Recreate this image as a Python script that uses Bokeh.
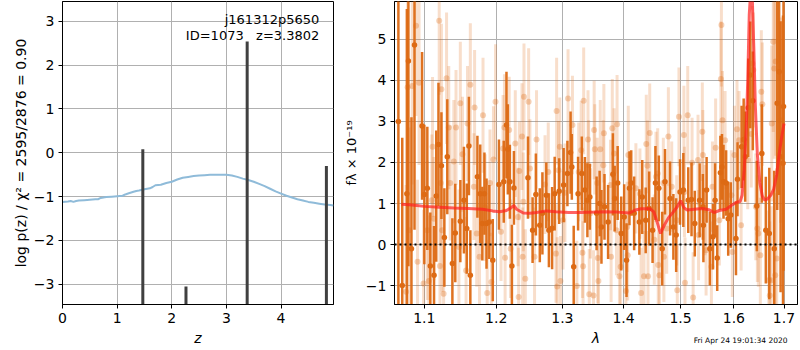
from bokeh.plotting import figure
from bokeh.layouts import row
from bokeh.models import (ColumnDataSource, FixedTicker, CustomJSTickFormatter,
                          Label, Span, Range1d, Title)
from bokeh.embed import file_html
from bokeh.resources import INLINE

FONT = "DejaVu Sans"
ORANGE = "#dd6a14"

# ---------------- left panel: log p(z) ----------------
z_grid = [0.0, 0.1, 0.15, 0.2, 0.25, 0.3, 0.4, 0.5, 0.6, 0.65, 0.7, 0.8, 0.9, 1.0,
          1.1, 1.15, 1.2, 1.3, 1.35, 1.4, 1.5, 1.6, 1.65, 1.7, 1.8, 1.9, 2.0, 2.1,
          2.2, 2.3, 2.4, 2.5, 2.6, 2.7, 2.8, 2.9, 3.0, 3.1, 3.2, 3.3, 3.4, 3.5, 3.6,
          3.7, 3.8, 3.9, 4.0, 4.1, 4.2, 4.3, 4.4, 4.5, 4.6, 4.7, 4.8, 4.9, 4.96]
log_pz = [-1.12, -1.11, -1.10, -1.12, -1.10, -1.09, -1.08, -1.07, -1.06, -1.06, -1.03,
          -1.01, -1.00, -0.99, -0.98, -0.95, -0.93, -0.89, -0.87, -0.86, -0.83, -0.81,
          -0.78, -0.74, -0.73, -0.69, -0.66, -0.61, -0.57, -0.55, -0.53, -0.52, -0.51,
          -0.50, -0.50, -0.50, -0.50, -0.52, -0.55, -0.59, -0.62, -0.66, -0.71, -0.76,
          -0.82, -0.88, -0.93, -0.98, -1.02, -1.06, -1.09, -1.12, -1.14, -1.16, -1.18,
          -1.19, -1.20]
peak_z = [1.47, 2.26, 3.38, 4.83]
peak_logp = [0.08, -3.05, 2.54, -0.30]
left_xticks = [0, 1, 2, 3, 4]
left_yticks = [-3, -2, -1, 0, 1, 2, 3]
left_xlim = (0.0, 4.96)
left_ylim = (-3.46, 3.45)

# ---------------- right panel: spectrum ----------------
dark_lam = [1.066, 1.071, 1.077, 1.079, 1.083, 1.087, 1.097, 1.100, 1.104, 1.108, 1.113,
            1.116, 1.119, 1.123, 1.127, 1.131, 1.138, 1.142, 1.149, 1.154, 1.158, 1.161,
            1.163, 1.173, 1.177, 1.180, 1.183, 1.186, 1.190, 1.195, 1.204, 1.211, 1.215,
            1.217, 1.220, 1.223, 1.226, 1.247, 1.254, 1.259, 1.265, 1.269, 1.275, 1.279,
            1.284, 1.288, 1.295, 1.302, 1.308, 1.313, 1.315, 1.318, 1.325, 1.331, 1.336,
            1.340, 1.344, 1.355, 1.360, 1.363, 1.368, 1.374, 1.382, 1.385, 1.390, 1.396,
            1.401, 1.405, 1.410, 1.413, 1.418, 1.427, 1.432, 1.438, 1.444, 1.450, 1.455,
            1.461, 1.467, 1.472, 1.481, 1.487, 1.492, 1.499, 1.505, 1.514, 1.520, 1.526,
            1.535, 1.541, 1.542, 1.548, 1.554, 1.560, 1.564, 1.568, 1.574, 1.577, 1.580,
            1.585, 1.589, 1.594, 1.604, 1.607, 1.615, 1.619, 1.622, 1.628, 1.632, 1.637,
            1.645, 1.655, 1.663, 1.670, 1.680, 1.686, 1.690, 1.693, 1.698, 1.699]
dark_flux = [3.0, -1.0, 1.24, 4.47, -0.10, 4.86, 2.89, 1.22, 1.37, -0.52, -0.75,
             1.18, 2.44, 1.92, 0.17, 2.14, -0.46, 0.28, 0.57, 1.08, 0.39, 2.40,
             -0.75, 1.65, 1.24, 0.51, 1.24, 0.51, 0.55, -0.38, 1.46, 1.53, 2.91,
             2.32, 1.53, -0.52, 1.38, 1.63, 0.35, 1.22, 0.47, 0.76, 1.20, 0.35,
             0.40, 1.24, 1.30, 1.45, 1.73, 2.24, 1.89, -0.54, 1.24, 1.73, 1.33,
             1.08, 1.16, 0.76, 1.00, 0.43, 0.92, 0.55, 1.71, 1.12, 1.50, 0.27,
             0.67, -0.38, 1.37, 1.50, 0.76, 0.55, 1.16, 0.59, 0.88, 0.35, 1.50,
             1.37, -0.10, 1.53, 1.12, 0.43, 0.23, 1.28, 1.33, 1.08, 1.10, 0.51,
             1.08, 0.92, 0.47, 1.33, -0.10, 0.19, 1.08, -0.33, 1.75, 1.89, 1.53,
             1.50, 0.63, 0.72, 0.15, 1.59, 2.38, 2.56, 2.14, 3.33, 4.13, 3.50,
             0.94, 2.22, 0.35, 0.27, -0.10, 3.44, 4.21, 2.14, 1.98, 3.36]
dark_err = [6.0, 3.6, 4.5, 5.0, 3.2, 4.5, 1.8, 1.7, 1.5, 1.3, 1.2,
            1.6, 1.5, 1.3, 1.2, 1.4, 1.1, 1.2, 1.0, 1.3, 1.1, 1.2,
            1.1, 1.0, 1.2, 0.9, 1.0, 1.1, 0.9, 1.0, 1.1, 1.0, 1.3,
            1.1, 0.9, 1.0, 0.9, 1.0, 0.8, 1.0, 0.9, 1.0, 0.8, 0.9,
            1.0, 0.9, 0.8, 0.9, 0.8, 1.0, 0.8, 1.0, 0.9, 0.9, 0.8,
            0.9, 0.8, 0.9, 0.8, 0.9, 0.8, 0.9, 1.0, 0.8, 0.9, 0.9,
            0.8, 0.9, 0.9, 0.8, 0.9, 0.8, 0.9, 0.8, 0.9, 0.8, 0.9,
            0.8, 0.9, 0.8, 0.9, 0.8, 0.9, 0.8, 0.9, 0.8, 0.9, 0.8,
            0.9, 0.8, 0.9, 0.8, 0.9, 0.8, 0.9, 0.8, 0.9, 0.8, 0.9,
            0.8, 0.9, 0.8, 0.9, 0.9, 1.0, 1.0, 1.1, 1.2, 1.3, 1.2,
            1.1, 1.2, 1.3, 1.6, 1.9, 2.6, 3.0, 3.3, 3.6, 4.0]

light_lam = [1.076, 1.078, 1.080, 1.084, 1.089, 1.091, 1.093, 1.099, 1.104, 1.106, 1.110,
             1.111, 1.113, 1.120, 1.121, 1.122, 1.123, 1.124, 1.126, 1.130, 1.133, 1.135,
             1.140, 1.143, 1.147, 1.149, 1.152, 1.157, 1.159, 1.163, 1.168, 1.169, 1.172,
             1.176, 1.181, 1.184, 1.187, 1.191, 1.193, 1.196, 1.199, 1.207, 1.210, 1.212,
             1.213, 1.219, 1.221, 1.228, 1.232, 1.233, 1.234, 1.238, 1.239, 1.240, 1.241,
             1.243, 1.248, 1.250, 1.257, 1.260, 1.273, 1.278, 1.290, 1.291, 1.292, 1.294,
             1.296, 1.297, 1.301, 1.304, 1.309, 1.316, 1.323, 1.326, 1.330, 1.332, 1.333,
             1.334, 1.341, 1.342, 1.343, 1.345, 1.350, 1.351, 1.352, 1.356, 1.357, 1.358,
             1.361, 1.366, 1.367, 1.378, 1.379, 1.381, 1.384, 1.388, 1.389, 1.393, 1.395,
             1.404, 1.406, 1.407, 1.408, 1.421, 1.428, 1.430, 1.435, 1.439, 1.441, 1.442,
             1.445, 1.453, 1.456, 1.459, 1.460, 1.462, 1.469, 1.470, 1.475, 1.478, 1.484,
             1.493, 1.494, 1.497, 1.506, 1.507, 1.508, 1.513, 1.521, 1.523, 1.532, 1.533,
             1.540, 1.541, 1.545, 1.547, 1.557, 1.559, 1.565, 1.572, 1.575, 1.576, 1.578,
             1.583, 1.595, 1.597, 1.601, 1.606, 1.610, 1.614, 1.627, 1.634, 1.636, 1.638,
             1.643, 1.646, 1.648, 1.652, 1.654, 1.656, 1.669, 1.671, 1.674, 1.675, 1.678,
             1.680, 1.682, 1.683, 1.685, 1.693]
light_flux = [-1.15, 3.83, 0.35, 3.86, 5.33, -0.42, 3.94, -0.95, 0.35, -0.89, 1.08,
              2.38, 0.63, 5.45, -0.52, 1.50, 3.78, 0.35, -1.20, 4.05, 2.85, 1.50,
              2.02, 2.85, -0.06, 3.44, 2.20, -0.63, 2.95, 3.89, 1.41, 3.34, 0.27,
              -0.30, 3.15, 0.90, -1.18, 1.50, -0.91, 2.07, 3.48, 0.31, 2.34, 2.85,
              -0.32, 2.79, -0.10, 2.46, 0.67, -1.28, 1.79, 2.63, -0.30, 1.04, 3.60,
              -0.83, 3.48, 1.85, -0.30, 2.56, 1.46, 1.77, -0.22, 3.25, -1.02, 1.81,
              2.38, -0.89, 0.59, 1.26, 3.56, 2.91, -1.01, 1.77, 2.30, -0.20, -0.53,
              3.50, 2.56, 1.93, -1.21, 0.76, -1.24, 2.79, 2.32, 1.50, -0.33, -0.89,
              2.32, 1.93, 2.71, 1.45, -0.30, 2.83, 2.22, 0.35, 2.93, -0.77, -0.54,
              -1.13, 0.43, -0.26, 2.18, 1.37, 1.24, -1.18, -0.77, 2.45, 1.92, -0.77,
              2.72, 0.12, 1.65, 1.73, -0.50, -0.75, 1.50, -0.30, 0.39, 2.63, 1.41,
              0.59, -1.11, 3.11, 2.67, 1.28, -0.93, 3.15, 1.99, -1.29, 2.06, 0.23,
              2.75, 2.18, 0.84, -0.14, -0.54, 1.41, 2.36, 0.59, 4.03, 5.35, 3.03,
              2.54, 1.20, -0.18, 2.18, 2.81, 2.54, 0.47, 2.06, 2.69, 4.41, 4.25,
              0.92, 0.39, 0.27, -0.26, 3.72, 3.42, -0.87, -1.24, -0.87, 2.95, 4.94,
              4.29, -0.75, 4.46, -0.34, 3.03]
light_err = [2.6, 2.8, 2.5, 2.4, 2.2, 2.0, 2.0, 1.8, 1.7, 1.6, 1.6,
             1.7, 1.5, 1.8, 1.5, 1.5, 1.6, 1.5, 1.4, 1.6, 1.5, 1.4,
             1.5, 1.4, 1.4, 1.5, 1.4, 1.3, 1.4, 1.5, 1.3, 1.4, 1.3,
             1.3, 1.4, 1.3, 1.3, 1.3, 1.2, 1.3, 1.4, 1.2, 1.3, 1.3,
             1.2, 1.3, 1.2, 1.3, 1.2, 1.2, 1.2, 1.3, 1.2, 1.2, 1.3,
             1.2, 1.3, 1.2, 1.2, 1.2, 1.2, 1.2, 1.2, 1.3, 1.2, 1.2,
             1.2, 1.1, 1.2, 1.2, 1.2, 1.2, 1.1, 1.2, 1.2, 1.1, 1.1,
             1.3, 1.2, 1.1, 1.1, 1.1, 1.1, 1.2, 1.1, 1.1, 1.1, 1.1,
             1.2, 1.1, 1.2, 1.1, 1.1, 1.2, 1.1, 1.1, 1.2, 1.1, 1.1,
             1.1, 1.1, 1.1, 1.2, 1.1, 1.1, 1.1, 1.1, 1.2, 1.1, 1.1,
             1.2, 1.1, 1.1, 1.1, 1.1, 1.1, 1.1, 1.1, 1.1, 1.2, 1.1,
             1.1, 1.1, 1.2, 1.2, 1.1, 1.1, 1.2, 1.1, 1.1, 1.1, 1.1,
             1.2, 1.1, 1.1, 1.1, 1.1, 1.1, 1.2, 1.1, 1.4, 1.5, 1.2,
             1.2, 1.1, 1.1, 1.2, 1.2, 1.2, 1.1, 1.2, 1.3, 1.4, 1.4,
             1.3, 1.3, 1.3, 1.4, 1.5, 1.5, 1.7, 1.8, 1.8, 1.9, 2.2,
             2.2, 2.0, 2.3, 2.2, 2.5]

model_lam = [1.070, 1.080, 1.090, 1.100, 1.120, 1.140, 1.160, 1.180, 1.195, 1.205,
             1.215, 1.222, 1.226, 1.230, 1.240, 1.250, 1.260, 1.275, 1.290, 1.310,
             1.330, 1.350, 1.370, 1.390, 1.410, 1.420, 1.430, 1.445, 1.452, 1.458,
             1.464, 1.470, 1.478, 1.486, 1.494, 1.500, 1.506, 1.512, 1.525, 1.540,
             1.552, 1.562, 1.572, 1.585, 1.595, 1.605, 1.612, 1.616, 1.620, 1.624,
             1.627, 1.630, 1.633, 1.636, 1.639, 1.642, 1.646, 1.651, 1.656, 1.661,
             1.667, 1.673, 1.679, 1.685, 1.690, 1.695, 1.700]
model_flux = [0.98, 0.97, 0.95, 0.93, 0.91, 0.89, 0.88, 0.86, 0.82, 0.80,
              0.83, 0.90, 0.95, 0.86, 0.77, 0.76, 0.78, 0.82, 0.80, 0.78,
              0.78, 0.79, 0.80, 0.79, 0.77, 0.84, 0.87, 0.87, 0.80, 0.55,
              0.27, 0.45, 0.65, 0.78, 0.92, 1.07, 0.90, 0.84, 0.86, 0.88,
              0.85, 0.78, 0.83, 0.86, 0.95, 1.03, 1.05, 1.20, 1.80, 2.80,
              4.00, 5.60, 6.20, 6.00, 4.80, 3.40, 2.20, 1.50, 1.18, 1.08,
              1.12, 1.20, 1.35, 1.70, 2.20, 2.60, 2.95]
right_xticks = [1.1, 1.2, 1.3, 1.4, 1.5, 1.6, 1.7]
right_yticks = [-1, 0, 1, 2, 3, 4, 5]
right_xlim = (1.061, 1.728)
right_ylim = (-1.46, 5.92)

obj_name = "j161312p5650"
obj_info = "ID=1073 \u00a0 z=3.3802"
timestamp = "Fri Apr 24 19:01:34 2020"

minus_fmt = "return tick.toFixed(%d).replace('-', '\u2212');"


def style(p, xticks, yticks):
    p.background_fill_color = "white"
    p.border_fill_color = "white"
    p.outline_line_color = "black"
    p.outline_line_width = 1
    p.outline_line_alpha = 1.0
    p.xaxis.ticker = FixedTicker(ticks=xticks)
    p.yaxis.ticker = FixedTicker(ticks=yticks)
    p.xgrid.ticker = FixedTicker(ticks=xticks)
    p.ygrid.ticker = FixedTicker(ticks=yticks)
    for ax in p.axis:
        ax.axis_line_color = "black"
        ax.major_tick_out = 4
        ax.major_tick_in = 0
        ax.minor_tick_out = 0
        ax.minor_tick_in = 0
        ax.major_tick_line_color = "black"
        ax.major_label_text_font = FONT
        ax.major_label_text_font_size = "14px"
        ax.major_label_text_color = "black"
        ax.major_label_standoff = 4
        ax.axis_label_text_font = FONT
        ax.axis_label_text_font_size = "14px"
        ax.axis_label_text_color = "black"
        ax.axis_label_standoff = 4
    for g in p.grid:
        g.grid_line_color = "#b0b0b0"
        g.grid_line_alpha = 1.0
        g.grid_line_width = 1
        g.level = "underlay"


# ---- left figure ----
left = figure(width=340, height=349, x_range=Range1d(*left_xlim),
              y_range=Range1d(*left_ylim), output_backend="svg",
              toolbar_location=None, min_border_left=62, min_border_right=7,
              min_border_top=1, min_border_bottom=45)
style(left, left_xticks, left_yticks)
left.xaxis.formatter = CustomJSTickFormatter(code=minus_fmt % 0)
left.yaxis.formatter = CustomJSTickFormatter(code=minus_fmt % 0)
left.xaxis.axis_label = "z"
left.xaxis.axis_label_text_font_style = "italic"
left.yaxis.axis_label = "log p(z) / \u03c7\u00b2 = 2595/2876 = 0.90"
left.yaxis.axis_label_text_font_style = "normal"
left.yaxis.axis_label_standoff = 2

left.line(z_grid, log_pz, line_color="#8fbbd9", line_width=2)
left.segment(x0=peak_z, y0=[left_ylim[0]] * len(peak_z), x1=peak_z, y1=peak_logp,
             line_color="#404040", line_width=3)

for i, txt in enumerate([obj_name, obj_info]):
    left.add_layout(Label(x=4.70, y=left_ylim[1], text=txt, text_align="right",
                          text_baseline="middle", y_offset=-18 - 16 * i,
                          text_font=FONT, text_font_size="13px", text_color="black"))

# ---- right figure ----
right = figure(width=458, height=349, x_axis_type="log", x_range=Range1d(*right_xlim),
               y_range=Range1d(*right_ylim), output_backend="svg",
               toolbar_location=None, min_border_left=52, min_border_right=1,
               min_border_top=1, min_border_bottom=10)
style(right, right_xticks, right_yticks)
right.xaxis.formatter = CustomJSTickFormatter(code="return tick.toFixed(1);")
right.yaxis.formatter = CustomJSTickFormatter(code=minus_fmt % 0)
right.xaxis.axis_label = "\u03bb"
right.xaxis.axis_label_text_font_style = "italic"
right.yaxis.axis_label = "f\u03bb \u00d7 10\u207b\u00b9\u2079"
right.yaxis.axis_label_text_font_style = "normal"
right.yaxis.axis_label_text_font_size = "13px"

light_src = ColumnDataSource(dict(
    lam=light_lam, flux=light_flux,
    lo=[f - e for f, e in zip(light_flux, light_err)],
    hi=[f + e for f, e in zip(light_flux, light_err)]))
dark_src = ColumnDataSource(dict(
    lam=dark_lam, flux=dark_flux,
    lo=[f - e for f, e in zip(dark_flux, dark_err)],
    hi=[f + e for f, e in zip(dark_flux, dark_err)]))

right.segment(x0="lam", y0="lo", x1="lam", y1="hi", source=light_src,
              line_color=ORANGE, line_alpha=0.22, line_width=3)
right.scatter("lam", "flux", source=light_src, size=6, fill_color=ORANGE,
              fill_alpha=0.3, line_color=None)
right.segment(x0="lam", y0="lo", x1="lam", y1="hi", source=dark_src,
              line_color=ORANGE, line_alpha=0.95, line_width=2.5)
right.scatter("lam", "flux", source=dark_src, size=5.5, fill_color=ORANGE,
              line_color=None)
right.line(model_lam, model_flux, line_color="#ff2020", line_alpha=0.7, line_width=3)
right.add_layout(Span(location=0, dimension="width", line_color="black",
                      line_dash="2 3", line_width=2))
# timestamp as a small title under the x axis, right aligned, pulled up onto
# the row of the axis label
right.add_layout(Title(text=timestamp, align="right", vertical_align="top",
                       text_font=FONT, text_font_size="7.5px",
                       text_font_style="normal", text_color="black",
                       standoff=-26, offset=10), "below")

layout = row(left, right)
open("out.html", "w").write(file_html(layout, INLINE))
